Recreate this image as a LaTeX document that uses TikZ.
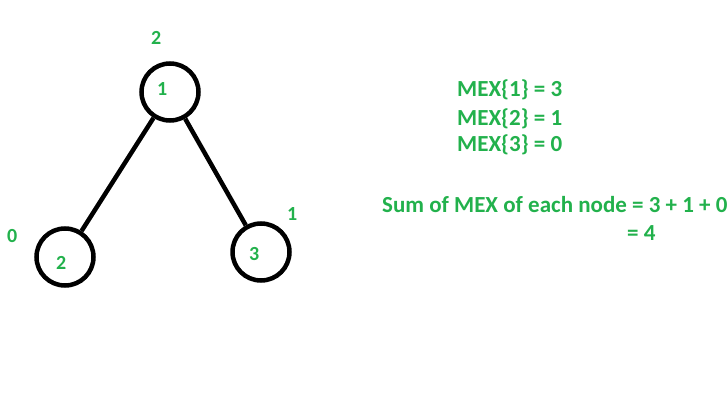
\documentclass[tikz,border=0pt]{standalone}
\usepackage{fontspec}
\setmainfont{Carlito}
\usepackage{xcolor}
\usetikzlibrary{positioning}
\definecolor{mexgreen}{RGB}{34,177,76}

\begin{document}
\begin{tikzpicture}[x=1pt,y=-1pt,
  vert/.style={circle,draw,line width=4.5pt,minimum size=57pt,inner sep=0pt},
  num/.style={text=mexgreen,font=\fontsize{20}{24}\selectfont\bfseries,inner sep=0pt,anchor=base west},
  txt/.style={text=mexgreen,font=\fontsize{23}{28}\selectfont\bfseries,inner sep=0pt,anchor=base west}]
  \useasboundingbox (0,0) rectangle (728,409);
  % tree
  \node[vert] (n1) at (170,92) {};
  \node[vert] (n2) at (65,257) {};
  \node[vert] (n3) at (261,252) {};
  \draw[line width=4.5pt] (n1) -- (n2);
  \draw[line width=4.5pt] (n1) -- (n3);
  % keys inside, mex values outside
  \foreach \nm/\x/\y/\t in {k1/157/96/1,k2/56/269/2,k3/249/260/3,m1/151/45/2,m2/7/242/0,m3/287/220/1}
    \node[num] (\nm) at (\x,\y) {\t};
  % mex of each subtree
  \node[txt] (mex1) at (457,97) {MEX\{1\} = 3};
  \node[txt] (mex2) at (457,125) {MEX\{2\} = 1};
  \node[txt] (mex3) at (457,152) {MEX\{3\} = 0};
  % total
  \node[txt] (sum) at (382,212) {Sum of MEX of each node = 3 + 1 + 0};
  \node[txt] (tot) at (627,240) {= 4};
\end{tikzpicture}
\end{document}
